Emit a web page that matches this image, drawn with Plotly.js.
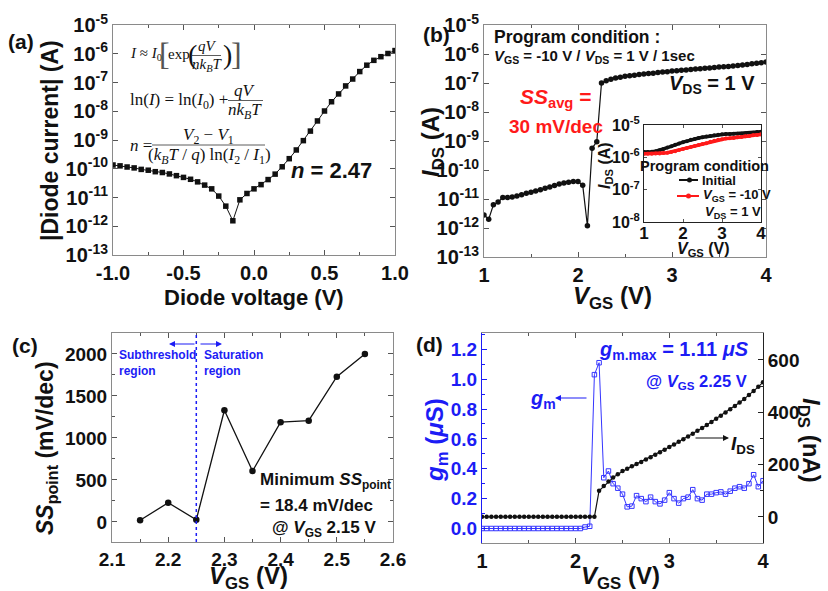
<!DOCTYPE html>
<html><head><meta charset="utf-8">
<script src="https://cdn.plot.ly/plotly-3.0.1.min.js"></script>
<style>html,body{margin:0;padding:0;background:#fff;}#chart{width:828px;height:591px;}</style>
</head><body><div id="chart"></div>
<script>
// ---------- (a) diode I-V ----------
const diodeV = [-1.0,-0.95,-0.9,-0.85,-0.8,-0.75,-0.7,-0.65,-0.6,-0.55,-0.5,-0.45,-0.4,-0.35,-0.3,-0.25,-0.2,-0.15,-0.1,-0.05,0.0,0.05,0.1,0.15,0.2,0.25,0.3,0.35,0.4,0.45,0.5,0.55,0.6,0.65,0.7,0.75,0.8,0.85,0.9,0.95,1.0];
const diodeI = [1.35e-10,1.26e-10,1.15e-10,1.07e-10,9.5e-11,8.9e-11,7.9e-11,7.4e-11,6.6e-11,5.75e-11,5.0e-11,4.3e-11,3.5e-11,2.7e-11,2.0e-11,1.12e-11,5.0e-12,1.55e-12,8.3e-12,1.38e-11,2.0e-11,2.8e-11,4.2e-11,6.5e-11,1.17e-10,2.24e-10,4.5e-10,9.5e-10,2.04e-9,4.6e-9,1.02e-8,2.14e-8,4.0e-8,7.6e-8,1.32e-7,2.4e-7,4.0e-7,5.9e-7,7.9e-7,1.02e-6,1.29e-6];
// ---------- (b) transfer curve ----------
const vgs = [1.0,1.05,1.1,1.15,1.2,1.25,1.3,1.35,1.4,1.45,1.5,1.55,1.6,1.65,1.7,1.75,1.8,1.85,1.9,1.95,2.0,2.05,2.1,2.15,2.2,2.25,2.3,2.35,2.4,2.45,2.5,2.55,2.6,2.65,2.7,2.75,2.8,2.85,2.9,2.95,3.0,3.05,3.1,3.15,3.2,3.25,3.3,3.35,3.4,3.45,3.5,3.55,3.6,3.65,3.7,3.75,3.8,3.85,3.9,3.95,4.0];
const idsLog = [2.8e-12,2.0e-12,6.3e-12,7.9e-12,1.12e-11,1.12e-11,1.17e-11,1.26e-11,1.41e-11,1.58e-11,1.7e-11,1.9e-11,2.1e-11,2.35e-11,2.6e-11,2.95e-11,3.3e-11,3.55e-11,3.8e-11,4.0e-11,4.0e-11,3.0e-11,1.2e-12,5.6e-10,9.5e-10,1.0e-7,1.2e-7,1.35e-7,1.48e-7,1.58e-7,1.7e-7,1.78e-7,1.86e-7,1.95e-7,2.04e-7,2.14e-7,2.19e-7,2.29e-7,2.4e-7,2.45e-7,2.57e-7,2.63e-7,2.75e-7,2.82e-7,2.95e-7,3.02e-7,3.09e-7,3.24e-7,3.31e-7,3.39e-7,3.55e-7,3.63e-7,3.72e-7,3.89e-7,3.98e-7,4.17e-7,4.37e-7,4.57e-7,4.79e-7,5.0e-7,5.25e-7];
// inset
const vgsInset = [1.0,1.1,1.2,1.3,1.4,1.5,1.6,1.7,1.8,1.9,2.0,2.1,2.2,2.3,2.4,2.5,2.6,2.7,2.8,2.9,3.0,3.1,3.2,3.3,3.4,3.5,3.6,3.7,3.8,3.9,4.0];
const idsInitial = [1.45e-6,1.45e-6,1.48e-6,1.55e-6,1.66e-6,1.82e-6,2.0e-6,2.19e-6,2.45e-6,2.69e-6,2.95e-6,3.16e-6,3.47e-6,3.72e-6,3.98e-6,4.17e-6,4.37e-6,4.57e-6,4.79e-6,5.0e-6,5.13e-6,5.25e-6,5.25e-6,5.37e-6,5.37e-6,5.37e-6,5.5e-6,5.62e-6,5.75e-6,6.03e-6,6.17e-6];
const idsProgram = [1.29e-6,1.29e-6,1.29e-6,1.32e-6,1.32e-6,1.35e-6,1.38e-6,1.45e-6,1.55e-6,1.7e-6,1.82e-6,1.95e-6,2.09e-6,2.24e-6,2.4e-6,2.57e-6,2.75e-6,3.02e-6,3.24e-6,3.47e-6,3.63e-6,3.8e-6,3.89e-6,3.98e-6,4.17e-6,4.27e-6,4.47e-6,4.57e-6,4.79e-6,4.9e-6,5.13e-6];
const logTickVals = [1e-13,1e-12,1e-11,1e-10,1e-9,1e-8,1e-7,1e-6,1e-5];
const logTickText = ['10<sup>-13</sup>','10<sup>-12</sup>','10<sup>-11</sup>','10<sup>-10</sup>','10<sup>-9</sup>','10<sup>-8</sup>','10<sup>-7</sup>','10<sup>-6</sup>','10<sup>-5</sup>'];
const insetTickVals = [1e-8,1e-7,1e-6,1e-5];
const insetTickText = ['10<sup>-8</sup>','10<sup>-7</sup>','10<sup>-6</sup>','10<sup>-5</sup>'];
// ---------- (c) point SS ----------
const vgsSS = [2.15,2.2,2.25,2.3,2.35,2.4,2.45,2.5,2.55];
const ssPoint = [18.4,228,25,1330,605,1188,1205,1730,2000];
const regionBoundary = 2.25;
// ---------- (d) gm and IDS ----------
const gm = [0,0,0,0,0,0,0,0,0,0,0,0,0,0,0,0,0,0,0,0,0,0,0.01,0.015,1.03,1.11,0.34,0.385,0.30,0.27,0.23,0.145,0.15,0.22,0.20,0.18,0.21,0.18,0.165,0.19,0.24,0.20,0.17,0.20,0.21,0.26,0.20,0.19,0.23,0.23,0.24,0.245,0.23,0.25,0.27,0.28,0.27,0.30,0.36,0.28,0.32];
const idsLin = [0,0,0,0,0,0,0,0,0,0,0,0,0,0,0,0,0,0,0,0,0,0,0,0,0,100,118,135,150,163,175,184,193,202,210,219,228,237,247,257,267,277,287,297,307,318,329,340,351,363,375,387,399,411,424,437,451,466,481,497,515];

const W = 828, H = 591;
const X = p => p / W, Y = p => 1 - p / H;
const SANS = 'Liberation Sans, Arial, sans-serif';
const SERIF = 'Liberation Serif, Times New Roman, serif';
const BLUE = '#1c1cf5', RED = '#ff1a1a';

function axis(o) {
  return Object.assign({
    showline: true, linecolor: '#8a8a8a', linewidth: 1, mirror: 'ticks',
    ticks: 'inside', ticklen: 5, tickcolor: '#555', tickwidth: 1,
    showgrid: false, zeroline: false, fixedrange: true,
    tickfont: {family: SANS, size: 20, color: '#111', weight: 'bold'}
  }, o);
}
function ann(text, x, y, o) {
  o = o || {};
  return {text: text, x: X(x), y: Y(y), xref: 'paper', yref: 'paper', showarrow: false,
    xanchor: o.xa || 'center', yanchor: 'middle', textangle: o.angle || 0, align: o.align || 'center',
    font: {family: o.family || SANS, size: o.size || 18, color: o.color || '#111', weight: o.weight || 'bold'}};
}
function arrow(hx, hy, tx, ty, color) {
  return {text: '', x: X(hx), y: Y(hy), xref: 'paper', yref: 'paper', showarrow: true,
    ax: tx - hx, ay: ty - hy, arrowhead: 2, arrowsize: 1, arrowwidth: 1.2, arrowcolor: color};
}
function hline(x0, x1, y, color, w) {
  return {type: 'line', xref: 'paper', yref: 'paper', x0: X(x0), x1: X(x1), y0: Y(y), y1: Y(y), line: {color: color || '#222', width: w || 1}};
}
const EQ = {family: SERIF, size: 15, weight: 'normal'};
const EQ2 = {family: SERIF, size: 17, weight: 'normal'};

const traces = [
  {x: diodeV, y: diodeI, xaxis: 'x', yaxis: 'y', mode: 'lines+markers', line: {color: '#111', width: 1},
   marker: {symbol: 'square', size: 5.5, color: '#111'}},
  {x: vgs, y: idsLog, xaxis: 'x2', yaxis: 'y2', mode: 'lines+markers', line: {color: '#111', width: 1.2},
   marker: {symbol: 'circle', size: 5.5, color: '#111'}},
  {x: vgsInset, y: idsInitial, xaxis: 'x3', yaxis: 'y3', mode: 'lines+markers', line: {color: '#111', width: 3.5},
   marker: {symbol: 'circle', size: 4, color: '#111'}},
  {x: vgsInset, y: idsProgram, xaxis: 'x3', yaxis: 'y3', mode: 'lines+markers', line: {color: RED, width: 3.5},
   marker: {symbol: 'circle', size: 4, color: RED}},
  {x: vgsSS, y: ssPoint, xaxis: 'x4', yaxis: 'y4', mode: 'lines+markers', line: {color: '#111', width: 1.3},
   marker: {symbol: 'circle', size: 6.5, color: '#111'}},
  {x: vgs, y: idsLin, xaxis: 'x5', yaxis: 'y6', mode: 'lines+markers', line: {color: '#111', width: 1.2},
   marker: {symbol: 'circle', size: 4.5, color: '#111'}},
  {x: vgs, y: gm, xaxis: 'x5', yaxis: 'y5', mode: 'lines+markers', line: {color: '#3535ff', width: 1},
   marker: {symbol: 'square-open', size: 4.5, color: '#3535ff', line: {width: 1}}}
];

const layout = {
  width: W, height: H, margin: {l: 0, r: 0, t: 0, b: 0, autoexpand: false},
  paper_bgcolor: '#fff', plot_bgcolor: 'rgba(0,0,0,0)', showlegend: false,
  xaxis: axis({domain: [X(113), X(395)], anchor: 'y', range: [-1, 1], tickvals: [-1, -0.5, 0, 0.5, 1], ticktext: ['-1.0','-0.5','0.0','0.5','1.0'],
    minor: {ticks: 'inside', ticklen: 3, dtick: 0.25, tickcolor: '#555'}}),
  yaxis: axis({domain: [Y(255), Y(25)], anchor: 'x', type: 'log', range: [-13, -5], tickvals: logTickVals, ticktext: logTickText}),
  xaxis2: axis({domain: [X(484), X(766)], anchor: 'y2', range: [1, 4], tickvals: [1, 2, 3, 4],
    minor: {ticks: 'inside', ticklen: 3, dtick: 0.5, tickcolor: '#555'}}),
  yaxis2: axis({domain: [Y(257), Y(25)], anchor: 'x2', type: 'log', range: [-13, -5], tickvals: logTickVals, ticktext: logTickText}),
  xaxis3: axis({domain: [X(644), X(761)], anchor: 'y3', range: [1, 4], tickvals: [1, 2, 3, 4], linecolor: '#222', ticklen: 3,
    ticklabelstandoff: -4, tickfont: {family: SANS, size: 17, color: '#111', weight: 'bold'}}),
  yaxis3: axis({domain: [Y(222), Y(125)], anchor: 'x3', type: 'log', range: [-8, -5], tickvals: insetTickVals, ticktext: insetTickText, linecolor: '#222', ticklen: 3,
    tickfont: {family: SANS, size: 16, color: '#111', weight: 'bold'}}),
  xaxis4: axis({domain: [X(112), X(393)], anchor: 'y4', range: [2.1, 2.6], tickvals: [2.1, 2.2, 2.3, 2.4, 2.5, 2.6],
    tickfont: {family: SANS, size: 19, color: '#111', weight: 'bold'},
    minor: {ticks: 'inside', ticklen: 3, dtick: 0.05, tickcolor: '#555'}}),
  yaxis4: axis({domain: [Y(542), Y(333)], anchor: 'x4', range: [-240, 2250], tickvals: [0, 500, 1000, 1500, 2000],
    tickfont: {family: SANS, size: 19, color: '#111', weight: 'bold'},
    minor: {ticks: 'inside', ticklen: 3, dtick: 250, tickcolor: '#555'}}),
  xaxis5: axis({domain: [X(482), X(763)], anchor: 'y5', range: [1, 4], tickvals: [1, 2, 3, 4],
    minor: {ticks: 'inside', ticklen: 3, dtick: 0.5, tickcolor: '#555'}}),
  yaxis5: axis({domain: [Y(543), Y(333)], anchor: 'x5', range: [-0.097, 1.309], tickvals: [0, 0.2, 0.4, 0.6, 0.8, 1.0, 1.2],
    ticktext: ['0.0','0.2','0.4','0.6','0.8','1.0','1.2'], mirror: false, linecolor: BLUE, tickcolor: BLUE,
    tickfont: {family: SANS, size: 19, color: BLUE, weight: 'bold'},
    minor: {ticks: 'inside', ticklen: 3, dtick: 0.1, tickcolor: BLUE}}),
  yaxis6: axis({domain: [Y(543), Y(333)], anchor: 'x5', overlaying: 'y5', side: 'right', range: [-100, 703], tickvals: [0, 200, 400, 600],
    mirror: false, linecolor: '#222', tickcolor: '#222',
    tickfont: {family: SANS, size: 19, color: '#111', weight: 'bold'},
    minor: {ticks: 'inside', ticklen: 3, dtick: 100, tickcolor: '#222'}}),
  shapes: [
    // (a) fraction bars
    hline(192, 221, 55.5, '#333', 0.8),
    hline(228, 263, 100.5, '#333', 0.8),
    hline(152, 265, 145, '#333', 0.8),
    // (c) region boundary
    {type: 'line', xref: 'x4', yref: 'y4 domain', x0: regionBoundary, x1: regionBoundary, y0: 0, y1: 1, line: {color: BLUE, width: 1.5, dash: 'dot'}},
    // inset legend samples
    hline(679, 698, 180, '#111', 2),
    {type: 'circle', xref: 'paper', yref: 'paper', x0: X(687), x1: X(692), y0: Y(177.5), y1: Y(182.5), fillcolor: '#111', line: {width: 0}},
    hline(677, 699, 196, RED, 2),
    {type: 'circle', xref: 'paper', yref: 'paper', x0: X(686), x1: X(691), y0: Y(193.5), y1: Y(198.5), fillcolor: RED, line: {width: 0}}
  ],
  annotations: [
    // panel labels
    ann('(a)', 21, 42, {size: 21}), ann('(b)', 436, 34, {size: 21}), ann('(c)', 25, 345, {size: 21}), ann('(d)', 429, 344, {size: 21}),
    // (a) titles
    ann('|Diode current| (A)', 50, 141, {size: 23, angle: -90}),
    ann('Diode voltage (V)', 254, 297, {size: 22}),
    // (a) equations
    ann('<i>I</i> ≈ <i>I</i><sub>0</sub>', 128, 54, Object.assign({xa: 'left'}, EQ)),
    ann('[', 157, 54, {xa: 'left', family: SERIF, size: 32, weight: 'normal', color: '#555'}),
    ann('exp', 166, 54, Object.assign({xa: 'left'}, EQ)),
    ann('(', 186, 54, {xa: 'left', family: SERIF, size: 28, weight: 'normal'}),
    ann('<i>qV</i>', 207, 46, EQ),
    ann('<i>nk<sub>B</sub>T</i>', 207, 65, EQ),
    ann(')', 221, 54, {xa: 'left', family: SERIF, size: 28, weight: 'normal'}),
    ann(']', 229, 54, {xa: 'left', family: SERIF, size: 32, weight: 'normal', color: '#555'}),
    ann('ln(<i>I</i>) = ln(<i>I</i><sub>0</sub>) +', 128, 101, Object.assign({xa: 'left'}, EQ2)),
    ann('<i>qV</i>', 245, 91, EQ2),
    ann('<i>nk<sub>B</sub>T</i>', 245, 111, EQ2),
    ann('<i>n</i> =', 128, 145, Object.assign({xa: 'left'}, EQ2)),
    ann('<i>V</i><sub>2</sub> − <i>V</i><sub>1</sub>', 208, 136, EQ2),
    ann('(<i>k<sub>B</sub>T</i> / <i>q</i>) ln(<i>I</i><sub>2</sub> / <i>I</i><sub>1</sub>)', 209, 156, EQ2),
    ann('<i>n</i> = 2.47', 331, 170, {size: 22}),
    // (b) titles and text
    ann('<i>I</i><sub>DS</sub> (A)', 432, 142, {size: 24, angle: -90}),
    ann('<i>V</i><sub>GS</sub> (V)', 612, 297, {size: 24}),
    ann('Program condition :', 492, 37, {xa: 'left', size: 17.5}),
    ann('<i>V</i><sub>GS</sub> = -10 V / <i>V</i><sub>DS</sub> = 1 V / 1sec', 492, 57, {xa: 'left', size: 15}),
    ann('<i>V</i><sub>DS</sub> = 1 V', 757, 85, {xa: 'right', size: 20}),
    ann('<i>SS</i><sub>avg</sub> =', 555, 98, {size: 21, color: RED}),
    ann('30 mV/dec', 556, 127, {size: 19, color: RED}),
    // inset text
    ann('<i>I</i><sub>DS</sub> (A)', 605, 166, {size: 16, angle: -90}),
    ann('<i>V</i><sub>GS</sub> (V)', 703, 249, {size: 16}),
    ann('Program condition', 704, 166, {size: 14.5}),
    ann('Initial', 700, 180, {xa: 'left', size: 13}),
    ann('<i>V</i><sub>GS</sub> = -10 V', 701, 196, {xa: 'left', size: 13}),
    ann('<i>V</i><sub>DS</sub> = 1 V', 703, 212, {xa: 'left', size: 13}),
    // (c)
    ann('<i>SS</i><sub>point</sub> (mV/dec)', 46, 448, {size: 23, angle: -90}),
    ann('<i>V</i><sub>GS</sub> (V)', 248, 577, {size: 24}),
    ann('Subthreshold<br>region', 117, 363, {xa: 'left', align: 'left', size: 12, color: BLUE}),
    ann('Saturation<br>region', 202, 363, {xa: 'left', align: 'left', size: 12, color: BLUE}),
    arrow(169, 344, 196, 344, BLUE),
    arrow(222, 344, 199, 344, BLUE),
    ann('Minimum <i>SS</i><sub>point</sub>', 258, 481, {xa: 'left', size: 17}),
    ann('= 18.4 mV/dec', 258, 505, {xa: 'left', size: 17}),
    ann('@ <i>V</i><sub>GS</sub> 2.15 V', 270, 529, {xa: 'left', size: 17}),
    // (d)
    ann('<i>g</i><sub>m</sub> (<i>μ</i>S)', 436, 440, {size: 24, angle: -90, color: BLUE}),
    ann('<i>I</i><sub>DS</sub> (nA)', 810, 440, {size: 24, angle: 90}),
    ann('<i>V</i><sub>GS</sub> (V)', 620, 577, {size: 24}),
    ann('<i>g</i><sub>m.max</sub> = 1.11 <i>μS</i>', 674, 350, {size: 20, color: BLUE}),
    ann('@ <i>V</i><sub>GS</sub> 2.25 V', 696, 382, {size: 16.5, color: BLUE}),
    ann('<i>g</i><sub>m</sub>', 543, 399, {size: 20, color: BLUE}),
    arrow(555, 398, 588, 398, BLUE),
    arrow(729, 438, 694, 438, '#111'),
    ann('<i>I</i><sub>DS</sub>', 743, 445, {size: 19})
  ]
};

Plotly.newPlot('chart', traces, layout, {displayModeBar: false, staticPlot: true});
</script></body></html>
